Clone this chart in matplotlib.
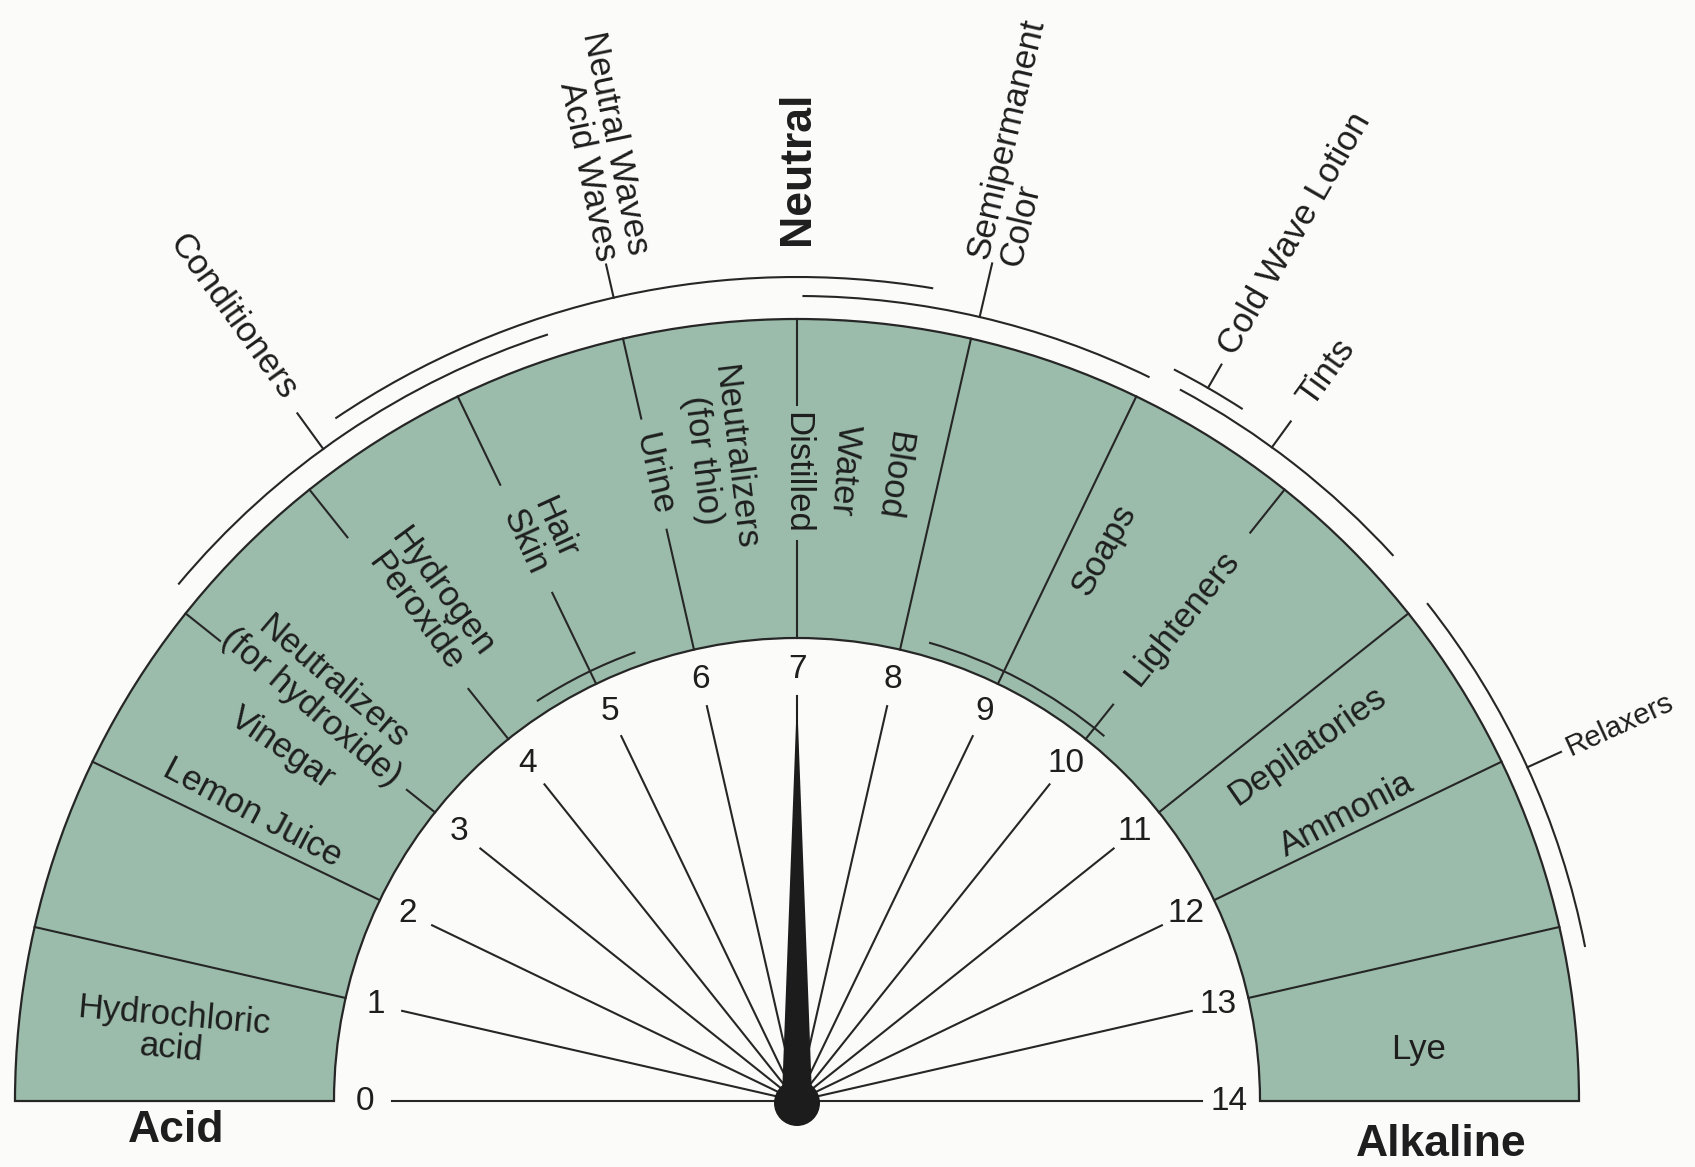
import numpy as np
import matplotlib
matplotlib.use('Agg')
import matplotlib.pyplot as plt
from matplotlib.patches import Wedge, Arc, Polygon, Circle

W, H = 1695, 1167
CX, CY = 797, H - 1101          # y axis points up
R_IN, R_OUT = 463, 782
SPOKE_R = 405
NUM_R = 432
INNER_ARC_R = 477

# pH scale
ph_ticks = list(range(15))
tick_labels = [str(i) for i in ph_ticks]

# radial boundaries inside the band
full_lines = [1, 2, 8, 9, 11, 12, 13]
broken_lines = [3, 4, 5, 6, 7, 10]
broken_gap_lo = [499, 527, 564, 586, 560, 507]
broken_gap_hi = [738, 721, 684, 700, 696, 727]

# labels inside the band
band_labels = ["Hydrochloric\nacid", "Lemon Juice", "Vinegar",
               "Neutralizers\n(for hydroxide)", "Hydrogen\nPeroxide",
               "Hair\nSkin", "Urine", "Neutralizers\n(for thio)",
               "Distilled", "Water", "Blood", "Soaps", "Lighteners",
               "Depilatories", "Ammonia", "Lye"]
band_ph = [0.49, 2.17, 2.68, 3.15, 4.17, 5.1, 6.0, 6.46, 7.0, 7.34, 7.68,
           9.26, 10.0, 11.29, 11.86, 13.63]
band_r = [628, 616, 624, 625, 620, 622, 643, 647, 628, 633, 633,
          631, 617, 622, 620, 624]
band_mode = ["flat", "in", "in", "in", "in", "in", "in", "in", "in", "in",
             "in", "out", "out", "out", "out", "flat"]
band_flat_rot = [-5, 0, 0, 0, 0, 0, 0, 0, 0, 0, 0, 0, 0, 0, 0, 0]

# ranges outside the band
range_names = ["Conditioners", "Neutral Waves\nAcid Waves",
               "Semipermanent\nColor", "Cold Wave Lotion", "Tints", "Relaxers"]
range_start = [3.1, 4.35, 7.03, 9.12, 9.2, 11.02]
range_end = [5.6, 7.74, 9.02, 9.55, 10.7, 13.14]
range_r = [806, 824, 805, 823, 808, 803]
range_tick_ph = [4.2, 6.0, 8.02, 9.33, 9.8, 12.09]
range_tick_top = [850, 858, 860, 850, 840, 840]
range_label_ph = [4.22, 6.09, 8.03, 9.32, 9.8, 12.09]
range_label_r = [966, 975, 985, 1000, 900, 905]
range_mode = ["in", "in", "out", "out", "out", "out"]
range_align = ["center", "right", "left", "center", "center", "center"]
range_size = [25, 25, 25, 25, 25, 21]

# ranges just inside the band
inner_start = [4.43, 8.25]
inner_end = [5.46, 10.12]

BAND = '#9bbcab'
INK = '#262626'
FONT = 'Liberation Sans'


def theta(ph):
    return 180.0 - ph * 180.0 / 14.0


def pol(ph, r):
    t = np.radians(theta(ph))
    return CX + r * np.cos(t), CY + r * np.sin(t)


def rot_for(ph, mode):
    if mode == "in":
        return theta(ph) - 180.0
    return theta(ph)


fig = plt.figure(figsize=(W / 100, H / 100), dpi=100)
fig.patch.set_facecolor('#fbfbfa')
ax = fig.add_axes([0, 0, 1, 1])
ax.set_xlim(0, W)
ax.set_ylim(0, H)
ax.set_aspect('equal')
ax.axis('off')

# band
ax.add_patch(Wedge((CX, CY), R_OUT, 0, 180, width=R_OUT - R_IN,
                   facecolor=BAND, edgecolor=INK, lw=1.6, zorder=1))

# boundaries
for p in full_lines:
    x0, y0 = pol(p, R_IN)
    x1, y1 = pol(p, R_OUT)
    ax.plot([x0, x1], [y0, y1], color=INK, lw=1.5, zorder=2)
for p, lo, hi in zip(broken_lines, broken_gap_lo, broken_gap_hi):
    for a, b in [(R_IN, lo), (hi, R_OUT)]:
        x0, y0 = pol(p, a)
        x1, y1 = pol(p, b)
        ax.plot([x0, x1], [y0, y1], color=INK, lw=1.5, zorder=2)

# spokes and numbers
for p, lab in zip(ph_ticks, tick_labels):
    x1, y1 = pol(p, SPOKE_R)
    ax.plot([CX, x1], [CY, y1], color=INK, lw=1.5, zorder=3)
    xt, yt = pol(p, NUM_R)
    ax.text(xt, yt, lab, ha='center', va='center', fontsize=24,
            family=FONT, color='#1e1e1e', zorder=4)

# pointer
tip = pol(7, 404)
ax.add_patch(Polygon([(CX - 15, CY + 5), (CX + 15, CY + 5), tip],
                     closed=True, facecolor='#1c1c1c', edgecolor='none',
                     zorder=5))
ax.add_patch(Circle((CX, CY - 2), 23, facecolor='#1c1c1c',
                    edgecolor='none', zorder=5))

# band labels
for lab, p, r, m, fr in zip(band_labels, band_ph, band_r, band_mode,
                            band_flat_rot):
    x, y = pol(p, r)
    rot = fr if m == "flat" else rot_for(p, m)
    ax.text(x, y, lab, ha='center', va='center', rotation=rot,
            rotation_mode='anchor', fontsize=25, family=FONT,
            color='#1e1e1e', multialignment='center', linespacing=1.0,
            zorder=4)

# outer ranges
for name, s, e, r, tp, tt, lp, lr, m, al, fs in zip(
        range_names, range_start, range_end, range_r, range_tick_ph,
        range_tick_top, range_label_ph, range_label_r, range_mode,
        range_align, range_size):
    ax.add_patch(Arc((CX, CY), 2 * r, 2 * r, theta1=theta(e),
                     theta2=theta(s), color=INK, lw=1.5, zorder=2))
    x0, y0 = pol(tp, r)
    x1, y1 = pol(tp, tt)
    ax.plot([x0, x1], [y0, y1], color=INK, lw=1.5, zorder=2)
    x, y = pol(lp, lr)
    ax.text(x, y, name, ha='center', va='center',
            rotation=rot_for(lp, m), rotation_mode='anchor', fontsize=fs,
            family=FONT, color='#1e1e1e', multialignment=al,
            linespacing=1.0, zorder=4)

# inner ranges
for s, e in zip(inner_start, inner_end):
    ax.add_patch(Arc((CX, CY), 2 * INNER_ARC_R, 2 * INNER_ARC_R,
                     theta1=theta(e), theta2=theta(s), color=INK, lw=1.5,
                     zorder=2))

# headings
ax.text(*pol(7, 933), "Neutral", ha='center', va='center', rotation=90,
        rotation_mode='anchor', fontsize=32, fontweight='bold',
        family=FONT, color='#1e1e1e')
ax.text(176, H - 1130, "Acid", ha='center', va='center', fontsize=32,
        fontweight='bold', family=FONT, color='#1e1e1e')
ax.text(1441, H - 1144, "Alkaline", ha='center', va='center', fontsize=32,
        fontweight='bold', family=FONT, color='#1e1e1e')

fig.savefig('out.png', dpi=100, facecolor=fig.get_facecolor())
